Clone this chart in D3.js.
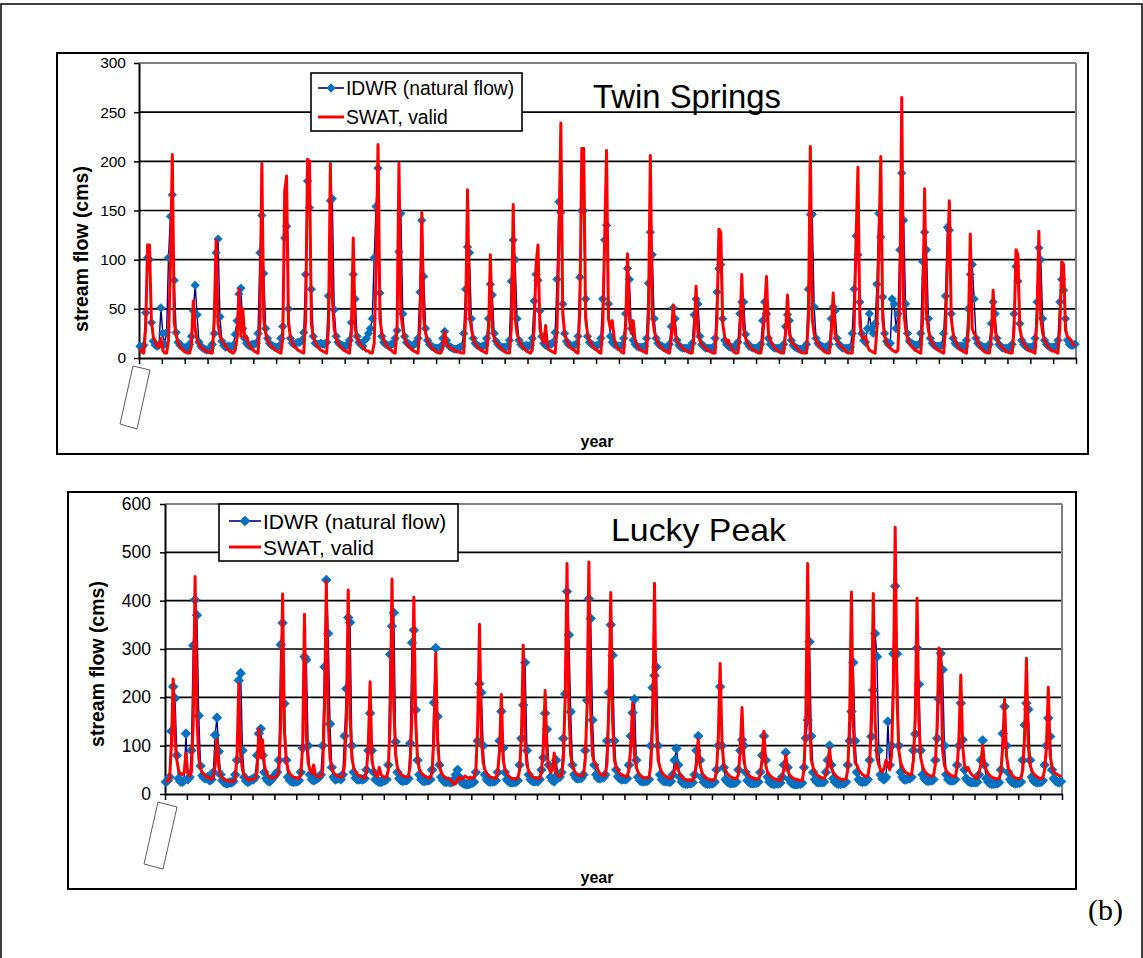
<!DOCTYPE html>
<html>
<head>
<meta charset="utf-8">
<script src="https://cdn.jsdelivr.net/npm/d3@7"></script>
<style>
  body { margin: 0; background: #fff; }
  svg { display: block; }
  text { font-family: "Liberation Sans", Arial, sans-serif; }
</style>
</head>
<body>
<div id="fig"></div>
<script>
// monthly stream flow (cms), one row per year (Jan..Dec), 41 years

// Twin Springs, IDWR natural flow
const tsIdwr = [
  [12,11,13,46,102,100,36,17,13,12,13,51],
  [25,14,26,102,144,166,79,26,16,13,12,11],
  [10,9,14,22,48,74,44,16,12,10,9,8],
  [9,10,14,25,107,121,42,17,13,11,12,12],
  [11,13,24,38,65,71,30,20,15,13,12,14],
  [14,15,25,107,145,86,30,20,15,13,12,11],
  [11,12,20,32,122,134,50,20,15,14,15,16],
  [16,18,26,85,180,153,70,22,15,14,14,15],
  [14,14,16,63,160,162,49,22,16,14,13,12],
  [12,13,18,36,85,60,22,16,14,12,18,20],
  [25,30,40,102,154,193,66,22,16,14,13,12],
  [14,15,20,28,108,147,45,22,16,14,13,12],
  [14,15,20,67,140,83,30,18,14,12,11,10],
  [10,10,12,20,27,18,13,11,10,9,9,10],
  [11,12,25,70,113,107,40,20,15,13,12,11],
  [12,13,20,40,75,64,25,17,14,12,11,11],
  [11,12,18,78,120,100,40,18,14,12,12,13],
  [12,13,20,58,85,79,48,22,15,13,12,14],
  [14,16,26,80,159,148,55,25,17,14,13,12],
  [13,14,22,82,150,150,60,22,16,14,13,12],
  [13,14,20,60,120,135,55,22,16,14,13,12],
  [12,13,20,45,91,80,30,18,14,12,11,11],
  [11,12,20,76,128,105,40,20,15,13,12,11],
  [10,10,14,32,51,40,18,13,11,10,10,10],
  [10,10,15,44,60,55,22,14,12,10,10,10],
  [10,11,20,67,91,95,40,18,14,12,11,11],
  [11,11,16,45,57,57,24,15,12,11,10,10],
  [10,10,14,38,57,45,20,14,12,10,10,10],
  [10,10,14,32,44,38,18,13,11,10,9,9],
  [9,10,14,70,146,146,52,20,15,13,12,11],
  [11,11,14,40,52,48,20,14,12,10,10,10],
  [10,11,25,70,124,105,57,25,18,16,30,45],
  [30,25,35,75,147,123,62,25,17,14,15,60],
  [55,30,45,110,188,140,55,25,17,15,14,13],
  [13,14,25,98,128,110,40,20,15,13,12,12],
  [12,13,25,63,133,130,45,20,15,13,12,12],
  [12,12,18,50,85,95,60,20,15,13,12,11],
  [11,11,14,35,57,45,20,14,12,10,10,10],
  [10,11,14,45,93,78,35,18,14,12,11,11],
  [11,12,20,57,112,100,40,18,14,12,11,11],
  [11,12,18,57,80,69,40,18,14,13,13,14]
];

// Twin Springs, SWAT validation run
const tsSwat = [
  [10,6,5,30,115,115,38,22,16,12,11,20],
  [8,5,5,18,95,207,36,23,15,12,9,7],
  [6,5,5,12,58,30,18,14,11,9,8,7],
  [6,5,5,40,120,35,22,18,15,12,9,7],
  [6,5,8,20,70,22,50,20,22,15,11,9],
  [7,6,5,35,198,40,25,18,14,12,10,8],
  [7,6,5,20,170,185,35,22,15,12,10,8],
  [7,6,5,40,202,200,35,22,16,12,10,8],
  [7,6,5,30,198,60,30,20,15,12,10,8],
  [7,6,5,25,122,30,20,16,13,11,9,7],
  [7,5,5,15,90,217,40,25,18,14,11,9],
  [8,6,5,30,198,45,30,20,15,12,10,8],
  [7,6,5,30,148,40,25,18,14,11,9,7],
  [6,5,5,10,27,15,12,10,9,8,7,6],
  [6,5,5,40,171,45,30,20,15,12,10,8],
  [7,6,5,25,105,30,20,16,13,11,9,7],
  [6,5,5,30,156,40,25,18,14,11,9,7],
  [6,5,8,30,95,115,30,20,15,33,12,8],
  [7,6,5,30,120,239,45,25,18,14,11,9],
  [8,6,5,50,213,213,40,25,18,14,11,9],
  [8,6,5,30,120,211,40,30,38,20,12,9],
  [8,6,5,30,106,40,25,38,18,13,10,8],
  [7,6,5,40,206,45,28,20,15,12,10,8],
  [7,6,5,20,54,25,18,14,12,10,8,7],
  [6,5,5,25,73,25,18,14,12,10,8,7],
  [6,5,5,40,131,128,35,22,15,18,12,8],
  [6,5,5,25,85,30,20,15,12,10,8,7],
  [6,5,5,20,50,83,25,18,14,11,9,7],
  [6,5,5,25,64,25,18,14,12,10,8,6],
  [5,5,5,40,215,40,25,18,14,11,9,7],
  [6,5,5,25,66,25,18,14,12,10,8,6],
  [5,5,5,30,120,194,35,22,20,22,12,8],
  [7,6,5,30,120,205,40,22,16,12,10,8],
  [7,6,8,60,265,50,30,20,15,12,10,8],
  [7,6,5,40,172,45,28,20,15,12,10,8],
  [7,6,5,30,100,160,40,25,18,14,10,8],
  [7,6,5,30,126,30,25,22,15,12,9,7],
  [6,5,5,20,69,28,20,15,12,10,8,6],
  [6,5,5,30,110,105,30,20,15,12,9,7],
  [7,6,5,40,129,40,25,18,14,11,9,7],
  [7,6,5,30,98,95,28,22,20,18,14,12]
];

// Lucky Peak, IDWR natural flow
const lpIdwr = [
  [25,28,35,130,222,198,80,32,26,25,28,125],
  [30,35,90,307,402,370,162,58,38,33,32,35],
  [28,30,45,122,158,88,40,28,24,22,22,24],
  [24,26,40,70,235,250,90,35,27,25,27,30],
  [30,35,80,125,135,80,45,32,27,26,30,35],
  [40,45,70,309,354,187,70,35,28,26,25,26],
  [26,28,45,95,284,278,100,40,30,28,30,32],
  [35,40,100,263,443,332,145,55,35,30,32,34],
  [30,40,120,218,365,355,100,45,33,30,30,31],
  [30,32,50,90,167,90,45,30,27,25,25,27],
  [28,30,60,289,347,375,108,45,32,28,27,28],
  [28,32,105,313,339,174,70,40,30,27,27,28],
  [28,30,50,189,302,160,60,35,28,25,25,26],
  [24,25,30,40,50,35,25,22,21,20,20,22],
  [23,25,45,110,228,210,100,40,30,26,25,26],
  [26,28,45,110,171,95,45,30,26,24,24,25],
  [25,28,60,115,184,272,90,40,30,27,26,27],
  [26,30,50,75,167,134,60,35,28,26,70,40],
  [35,45,115,207,419,329,170,60,40,33,32,33],
  [33,40,90,194,404,363,153,60,40,33,32,34],
  [34,40,110,210,350,287,110,50,36,32,30,31],
  [30,32,60,120,168,196,70,35,28,26,26,27],
  [27,30,100,220,245,263,100,40,30,27,26,27],
  [25,26,40,70,94,60,35,25,22,21,21,22],
  [22,24,40,90,120,70,35,25,22,21,21,22],
  [22,25,50,100,222,100,55,30,25,23,22,23],
  [23,25,50,90,112,100,45,28,24,22,22,23],
  [23,25,45,80,120,70,35,25,22,21,21,22],
  [22,23,35,60,86,55,30,23,21,20,20,21],
  [21,23,55,116,153,315,120,45,30,25,24,25],
  [24,25,45,70,100,60,32,25,22,21,21,22],
  [22,25,60,110,171,272,110,45,30,26,25,26],
  [26,30,70,119,215,332,284,90,40,32,30,35],
  [150,60,100,290,430,290,100,45,35,30,30,32],
  [32,35,90,124,302,227,90,40,32,28,27,28],
  [28,30,70,115,196,291,257,100,40,30,28,28],
  [28,30,60,100,188,112,50,32,27,25,24,25],
  [24,25,40,70,111,60,32,25,22,21,21,22],
  [22,24,50,125,181,100,45,30,25,23,22,23],
  [23,25,70,143,188,175,70,35,27,25,24,25],
  [25,28,60,100,157,119,50,32,27,25,24,26]
];

// Lucky Peak, SWAT validation run
const lpSwat = [
  [30,26,30,100,238,110,70,48,42,40,45,85],
  [42,38,45,150,450,160,75,52,44,40,36,34],
  [33,30,35,60,112,55,40,33,30,28,27,27],
  [27,26,30,80,228,80,50,38,33,30,29,30],
  [30,32,45,135,75,112,60,45,38,35,33,34],
  [35,38,50,150,414,130,70,50,42,38,35,34],
  [33,32,40,100,372,120,65,50,42,60,40,36],
  [35,36,50,180,441,150,75,52,44,40,38,36],
  [35,36,60,150,422,160,75,55,45,40,38,36],
  [34,33,45,100,232,70,50,40,36,55,40,36],
  [35,34,50,150,445,180,80,55,45,40,38,36],
  [35,36,60,170,407,150,75,52,44,40,37,35],
  [34,33,45,120,291,110,60,45,38,35,33,31],
  [30,25,20,22,30,35,30,32,37,35,32,35],
  [33,34,50,140,351,120,65,50,42,38,35,34],
  [33,32,45,90,206,70,50,42,37,34,32,31],
  [31,32,50,120,308,110,60,48,40,36,34,33],
  [32,32,45,100,214,80,55,45,50,85,45,38],
  [36,38,70,200,477,180,80,60,48,42,40,38],
  [37,38,70,180,480,170,80,65,60,50,42,40],
  [38,40,65,190,417,150,70,55,48,42,40,38],
  [36,36,50,100,188,80,55,45,40,36,34,33],
  [33,34,60,150,436,140,70,55,45,40,37,35],
  [33,32,40,50,63,50,40,35,32,30,29,29],
  [28,28,40,60,112,60,45,38,34,32,30,29],
  [29,30,45,120,270,110,60,48,42,38,35,33],
  [32,32,40,90,179,70,50,42,38,35,33,32],
  [31,30,40,70,130,60,45,40,36,33,31,30],
  [29,28,35,50,80,50,40,36,33,31,30,29],
  [28,28,50,160,477,160,70,55,45,40,37,35],
  [33,32,40,60,94,55,45,40,36,33,31,30],
  [30,31,50,150,418,140,65,60,50,45,40,38],
  [36,38,60,170,415,150,75,60,50,45,55,70],
  [60,50,80,220,552,200,90,65,55,48,44,42],
  [40,40,70,160,405,150,75,58,48,43,40,38],
  [37,38,60,140,302,290,90,60,48,43,40,38],
  [36,36,55,120,246,100,60,50,55,45,40,37],
  [34,33,45,60,101,60,50,42,38,35,33,32],
  [31,32,45,100,196,80,55,45,40,36,33,32],
  [32,34,50,120,281,100,60,48,42,38,35,33],
  [32,34,50,100,221,80,55,46,42,40,38,36]
];

const tsTicks = [0, 50, 100, 150, 200, 250, 300];
const lpTicks = [0, 100, 200, 300, 400, 500, 600];
const seriesNames = ["IDWR (natural flow)", "SWAT, valid"];
const yTitle = "stream flow (cms)";
const xTitle = "year";

const W = 1143, H = 958;
const svg = d3.select("#fig").append("svg").attr("width", W).attr("height", H);

// outer figure border
svg.append("rect").attr("x", 1).attr("y", 4).attr("width", 1141).attr("height", 970)
  .attr("fill", "none").attr("stroke", "#000").attr("stroke-width", 1.5);

svg.append("text").attr("x", 1088).attr("y", 920)
  .style("font-family", "'Liberation Serif', 'Times New Roman', serif")
  .style("font-size", "30px").text("(b)");

function drawPanel(p, idwr, swat) {
  const g = svg.append("g");
  const a = idwr.flat(), b = swat.flat();
  const n = a.length;

  g.append("rect").attr("x", p.frame[0]).attr("y", p.frame[1])
    .attr("width", p.frame[2] - p.frame[0]).attr("height", p.frame[3] - p.frame[1])
    .attr("fill", "#fff").attr("stroke", "#000").attr("stroke-width", 2);

  const x = d3.scaleLinear().domain([0, n]).range([p.left, p.right]);
  const y = d3.scaleLinear().domain([0, p.ticks[p.ticks.length - 1]]).range([p.bottom, p.top]);

  // gridlines, top one is the grey plot border
  g.selectAll("line.grid").data(p.ticks.slice(1)).join("line").attr("class", "grid")
    .attr("x1", p.left).attr("x2", p.right)
    .attr("y1", d => y(d)).attr("y2", d => y(d))
    .attr("stroke", (d, i, arr) => i === arr.length - 1 ? "#808080" : "#000")
    .attr("stroke-width", (d, i, arr) => i === arr.length - 1 ? 2 : 1.6);
  g.append("line").attr("x1", p.right).attr("x2", p.right).attr("y1", p.top).attr("y2", p.bottom)
    .attr("stroke", "#808080").attr("stroke-width", 2);

  // axes
  const yAxis = g.append("g").attr("transform", `translate(${p.left},0)`)
    .call(d3.axisLeft(y).tickValues(p.ticks).tickSize(5).tickSizeOuter(0).tickPadding(p.pad));
  yAxis.select(".domain").attr("stroke", "#000").attr("stroke-width", 2);
  yAxis.selectAll(".tick line").attr("stroke-width", 1.5);
  yAxis.selectAll("text").style("font-family", "'Liberation Sans', Arial, sans-serif")
    .style("font-size", p.tickFont + "px").attr("fill", "#000");

  const xAxis = g.append("g").attr("transform", `translate(0,${p.bottom})`)
    .call(d3.axisBottom(x).tickValues(d3.range(0, n + 1, 12)).tickSize(6).tickSizeOuter(0).tickFormat(""));
  xAxis.select(".domain").attr("stroke", "#000").attr("stroke-width", 2);
  xAxis.selectAll(".tick line").attr("stroke-width", 1.5);

  // empty rotated label box left over under the first tick
  g.append("polygon").attr("points", p.box.map(q => q.join(",")).join(" "))
    .attr("fill", "none").attr("stroke", "#333").attr("stroke-width", 0.8);

  // IDWR line + diamonds
  const line = d3.line().x((d, i) => x(i + 0.5)).y(d => y(d));
  g.append("path").datum(a).attr("d", line)
    .attr("fill", "none").attr("stroke", "#000080").attr("stroke-width", 1.4);
  const r = p.marker;
  const diamond = `M0,${-r}L${r},0L0,${r}L${-r},0Z`;
  g.selectAll("path.mk").data(a).join("path").attr("class", "mk")
    .attr("d", diamond)
    .attr("transform", (d, i) => `translate(${x(i + 0.5)},${y(d)})`)
    .attr("fill", "#0070C0").attr("stroke", "#0070C0").attr("stroke-width", 0.8);

  // SWAT line on top
  g.append("path").datum(b).attr("d", line)
    .attr("fill", "none").attr("stroke", "#FF0000").attr("stroke-width", 3)
    .attr("stroke-linejoin", "round");

  // legend
  const L = p.legend;
  g.append("rect").attr("x", L.x0).attr("y", L.y0).attr("width", L.x1 - L.x0).attr("height", L.y1 - L.y0)
    .attr("fill", "#fff").attr("stroke", "#000").attr("stroke-width", 1.6);
  g.append("line").attr("x1", L.lx0).attr("x2", L.lx1).attr("y1", L.r1).attr("y2", L.r1)
    .attr("stroke", "#000080").attr("stroke-width", 1.6);
  g.append("path").attr("d", diamond)
    .attr("transform", `translate(${(L.lx0 + L.lx1) / 2},${L.r1})`)
    .attr("fill", "#0070C0").attr("stroke", "#0070C0");
  g.append("line").attr("x1", L.lx0).attr("x2", L.lx1).attr("y1", L.r2).attr("y2", L.r2)
    .attr("stroke", "#FF0000").attr("stroke-width", 3);
  [L.r1, L.r2].forEach((ry, i) => {
    g.append("text").attr("x", L.tx).attr("y", ry).attr("dy", "0.36em")
      .style("font-size", L.font + "px").text(seriesNames[i]);
  });

  // station title
  g.append("text").attr("x", p.title.x).attr("y", p.title.y)
    .attr("textLength", p.title.len).attr("lengthAdjust", "spacingAndGlyphs")
    .style("font-size", p.title.font + "px").text(p.title.text);

  // axis titles
  g.append("text").attr("transform", `translate(${p.yTitle[0]},${p.yTitle[1]}) rotate(-90)`)
    .attr("text-anchor", "middle").attr("dy", "0.36em")
    .style("font-size", p.yFont + "px").style("font-weight", "bold").text(yTitle);
  g.append("text").attr("x", p.xTitle[0]).attr("y", p.xTitle[1]).attr("text-anchor", "middle")
    .style("font-size", p.xFont + "px").style("font-weight", "bold").text(xTitle);
}

drawPanel({
  frame: [57, 53, 1088, 454],
  left: 139, right: 1076, top: 63, bottom: 358,
  ticks: tsTicks, pad: 8, tickFont: 15.5, marker: 4.2,
  box: [[133, 366], [150, 370], [137, 429], [120, 424]],
  legend: { x0: 311, y0: 73, x1: 522, y1: 131, r1: 88, r2: 117, lx0: 318, lx1: 344, tx: 346, font: 19.3 },
  title: { x: 593, y: 108, len: 188, font: 34, text: "Twin Springs" },
  yTitle: [81, 249], yFont: 19.5, xTitle: [597, 447], xFont: 16
}, tsIdwr, tsSwat);

drawPanel({
  frame: [68, 492, 1076, 889],
  left: 165, right: 1062, top: 504, bottom: 794,
  ticks: lpTicks, pad: 9, tickFont: 17.5, marker: 4.8,
  box: [[158, 802], [177, 807], [163, 869], [144, 864]],
  legend: { x0: 219, y0: 504, x1: 458, y1: 561, r1: 521, r2: 547, lx0: 229, lx1: 261, tx: 263, font: 21 },
  title: { x: 611, y: 541, len: 175, font: 32, text: "Lucky Peak" },
  yTitle: [97, 664], yFont: 19.5, xTitle: [597, 883], xFont: 16
}, lpIdwr, lpSwat);
</script>
</body>
</html>
